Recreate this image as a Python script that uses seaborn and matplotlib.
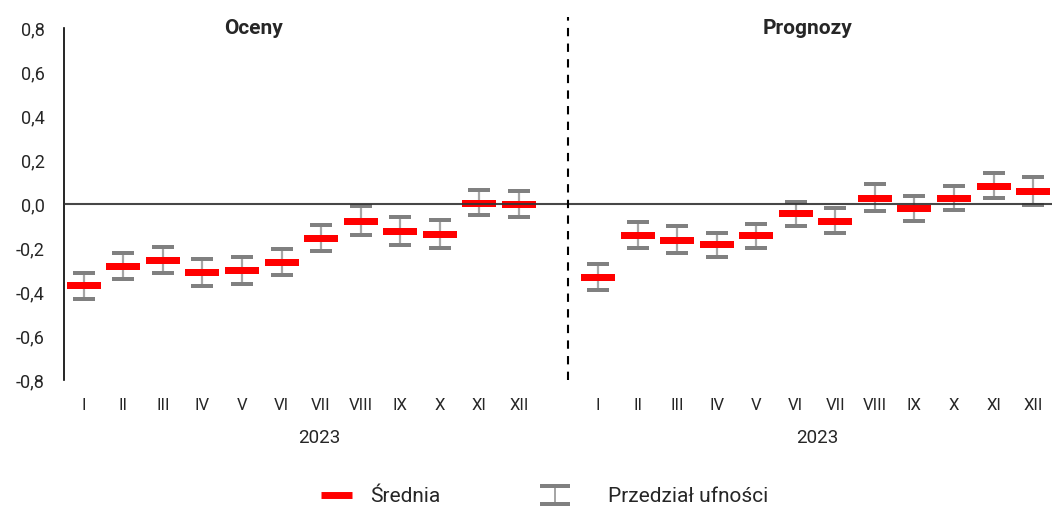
import seaborn as sns
import numpy as np
import pandas as pd
import matplotlib.pyplot as plt
from matplotlib.path import Path
from matplotlib.lines import Line2D
from matplotlib.legend_handler import HandlerTuple

# Months and panels
months = ['I', 'II', 'III', 'IV', 'V', 'VI', 'VII', 'VIII', 'IX', 'X', 'XI', 'XII']
panels = ['Oceny', 'Prognozy']
year_label = '2023'

# Mean values and confidence interval bounds
oceny_mean = [-0.37, -0.28, -0.255, -0.31, -0.30, -0.265, -0.155, -0.077, -0.123, -0.136, 0.005, 0.0]
oceny_low = [-0.43, -0.34, -0.314, -0.372, -0.363, -0.323, -0.214, -0.141, -0.186, -0.200, -0.050, -0.059]
oceny_high = [-0.314, -0.223, -0.196, -0.25, -0.241, -0.205, -0.095, -0.010, -0.060, -0.073, 0.064, 0.059]

prog_mean = [-0.332, -0.141, -0.164, -0.182, -0.141, -0.041, -0.077, 0.027, -0.018, 0.027, 0.082, 0.059]
prog_low = [-0.391, -0.200, -0.223, -0.241, -0.200, -0.100, -0.132, -0.032, -0.077, -0.027, 0.027, -0.005]
prog_high = [-0.273, -0.082, -0.100, -0.132, -0.091, 0.009, -0.018, 0.091, 0.036, 0.082, 0.141, 0.123]

yticks = [-0.8, -0.6, -0.4, -0.2, 0.0, 0.2, 0.4, 0.6, 0.8]

# Build a table: slot 12 is left empty between the two panels
df = pd.DataFrame({
    'pos': list(range(12)) + list(range(13, 25)),
    'month': months + months,
    'panel': ['Oceny'] * 12 + ['Prognozy'] * 12,
    'mean': oceny_mean + prog_mean,
    'low': oceny_low + prog_low,
    'high': oceny_high + prog_high,
})

sns.set_style('white')
plt.rcParams['font.family'] = ['Roboto', 'DejaVu Sans']

fig = plt.figure(figsize=(10.52, 5.08), dpi=100)
ax = fig.add_axes([0.0608, 0.252, 0.94, 0.693])

# Rectangle markers
red_rect = Path([(-1, -0.21), (1, -0.21), (1, 0.21), (-1, 0.21), (-1, -0.21)],
                [1, 2, 2, 2, 79])
cap_rect = Path([(-1, -0.2), (1, -0.2), (1, 0.2), (-1, 0.2), (-1, -0.2)],
                [1, 2, 2, 2, 79])

# whiskers
ax.vlines(df['pos'], df['low'], df['high'], color='#a6a6a6', lw=1.6, zorder=2)

# caps
caps = pd.concat([df[['pos', 'low']].rename(columns={'low': 'val'}),
                  df[['pos', 'high']].rename(columns={'high': 'val'})])
sns.scatterplot(data=caps, x='pos', y='val', marker=cap_rect, s=16**2,
                color='#808080', linewidth=0, ax=ax, zorder=3)

# means
sns.scatterplot(data=df, x='pos', y='mean', marker=red_rect, s=24**2,
                color='#ff0000', linewidth=0, ax=ax, zorder=4)

# zero line and divider
ax.axhline(0, color='#333333', lw=1.5, alpha=0.9, zorder=5)
ax.axvline(12.25, ymin=0, ymax=1.03, color='black', lw=1.5, ls=(0, (4, 3.5)),
           clip_on=False, zorder=5)

ax.set_xlim(-0.5, 24.5)
ax.set_ylim(-0.8, 0.8)
ax.set_yticks(yticks)
ax.set_yticklabels([f'{v:.1f}'.replace('.', ',') for v in yticks], fontsize=13)
ax.set_xticks(df['pos'])
ax.set_xticklabels(df['month'], fontsize=12)
ax.tick_params(axis='both', length=0)
ax.tick_params(axis='x', pad=13)
ax.tick_params(axis='y', pad=14)
ax.set_xlabel('')
ax.set_ylabel('')

for s in ['top', 'right', 'bottom']:
    ax.spines[s].set_visible(False)
ax.spines['left'].set_color('black')
ax.spines['left'].set_linewidth(1.2)

# panel titles and year labels
trans = ax.get_xaxis_transform()
ax.text(4.3, 0.998, panels[0], transform=trans, ha='center', va='center',
        fontsize=15, fontweight='bold')
ax.text(18.3, 0.998, panels[1], transform=trans, ha='center', va='center',
        fontsize=15, fontweight='bold')
ax.text(5.95, -0.165, year_label, transform=trans, ha='center', va='center', fontsize=13.5)
ax.text(18.55, -0.165, year_label, transform=trans, ha='center', va='center', fontsize=13.5)

# legend (two separate entries, placed like the original)
ci_caps = Path([(-1, 0.47), (1, 0.47), (1, 0.73), (-1, 0.73), (-1, 0.47),
                (-1, -0.73), (1, -0.73), (1, -0.47), (-1, -0.47), (-1, -0.73)],
               [1, 2, 2, 2, 79, 1, 2, 2, 2, 79])
ci_stick = Path([(-0.07, -0.47), (0.07, -0.47), (0.07, 0.47), (-0.07, 0.47), (-0.07, -0.47)],
                [1, 2, 2, 2, 79])
h_mean = Line2D([], [], color='#ff0000', lw=5, solid_capstyle='butt')
h_caps = Line2D([], [], ls='none', marker=ci_caps, markersize=22,
                markerfacecolor='#808080', markeredgewidth=0)
h_stick = Line2D([], [], ls='none', marker=ci_stick, markersize=22 * 0.47,
                 markerfacecolor='#a6a6a6', markeredgewidth=0)
leg1 = fig.legend([h_mean], ['Średnia'], loc='center left',
                  bbox_to_anchor=(321 / 1052, 1 - 497 / 508), frameon=False,
                  fontsize=15, handlelength=1.5, handletextpad=0.85,
                  borderpad=0, borderaxespad=0)
leg2 = fig.legend([(h_caps, h_stick)], ['Przedział ufności'],
                  handler_map={tuple: HandlerTuple(ndivide=1)},
                  loc='center left', bbox_to_anchor=(540 / 1052, 1 - 497 / 508),
                  frameon=False, fontsize=15, handlelength=1.45,
                  handletextpad=1.8, borderpad=0, borderaxespad=0)

fig.savefig('out.png', dpi=100)
